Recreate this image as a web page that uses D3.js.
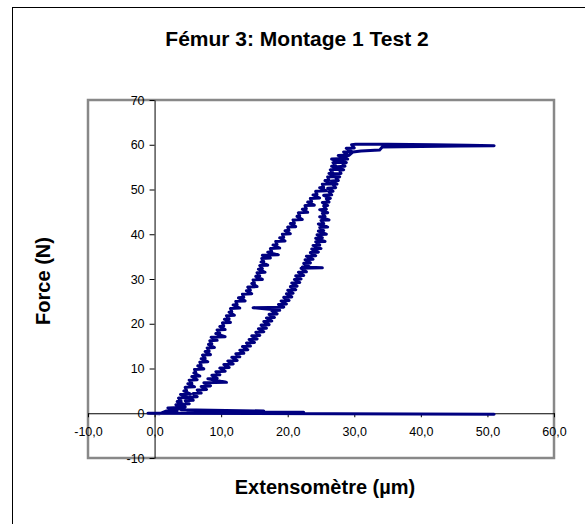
<!DOCTYPE html>
<html>
<head>
<meta charset="utf-8">
<script src="https://cdn.jsdelivr.net/npm/d3@7"></script>
<style>
  html, body { margin: 0; padding: 0; background: #fff; }
  svg { display: block; font-family: "Liberation Sans", Arial, sans-serif; }
</style>
</head>
<body>
<svg id="chart" width="585" height="524"></svg>
<script>
const title = "Fémur 3: Montage 1 Test 2";
const xTitle = "Extensomètre (µm)";
const yTitle = "Force (N)";
const xTicks = [-10, 0, 10, 20, 30, 40, 50, 60];
const yTicks = [-10, 0, 10, 20, 30, 40, 50, 60, 70];

// Start near zero
const startX = [-0.8, 0.8];
const startY = [0.0, -0.1];

// Loading branch (upper-left)
const loadX = [1.8,3.4,2.0,3.8,3.2,4.4,3.4,4.0,3.6,5.0,3.9,5.4,4.4,4.8,4.6,6.0,5.0,5.6,5.2,6.4,5.6,6.8,5.9,6.2,6.0,7.4,6.5,7.0,6.8,8.0,7.0,7.6,7.2,8.4,7.6,8.2,7.9,9.0,8.1,8.6,8.3,9.4,8.5,10.6,9.2,9.8,9.4,10.6,9.8,10.4,10.2,11.4,10.5,11.2,10.8,12.0,11.2,11.6,11.4,12.8,11.8,12.4,12.2,13.6,12.6,13.4,13.2,14.6,13.8,14.4,14.0,15.4,14.6,15.0,14.8,16.2,15.2,15.8,15.4,16.6,15.6,16.2,15.8,17.0,16.0,16.4,16.1,17.4,16.2,18.6,17.0,17.6,17.4,18.8,17.8,18.4,18.2,19.6,18.8,19.4,19.2,20.4,19.6,20.2,20.0,21.2,20.4,21.0,20.8,22.2,21.4,21.8,21.6,23.0,22.2,22.8,22.6,24.0,23.0,23.6,23.4,24.8,23.8,24.4,24.2,25.8,24.8,25.4,25.2,26.6,25.6,26.2,26.0,27.2,26.2,26.8,26.4,27.6,26.6,27.2,26.8,28.0,26.6,28.6,27.6,29.0,28.4,29.6,28.8,30.0,29.6,30.2];
const loadY = [0.5,0.6,1.2,1.3,1.9,2.0,2.6,2.7,3.4,3.5,4.2,4.3,5.0,5.1,5.8,5.9,6.6,6.7,7.4,7.5,8.2,8.3,9.0,9.1,9.8,9.9,10.6,10.7,11.4,11.5,12.2,12.3,13.0,13.1,13.8,13.9,14.6,14.7,15.4,15.5,16.2,16.3,17.0,17.1,17.8,17.9,18.6,18.7,19.4,19.5,20.2,20.3,21.0,21.1,21.8,21.9,22.6,22.7,23.4,23.5,24.2,24.3,25.0,25.1,25.8,25.9,26.6,26.7,27.4,27.5,28.2,28.3,29.0,29.1,29.8,29.9,30.6,30.7,31.4,31.5,32.2,32.3,33.0,33.1,33.8,33.9,34.6,34.7,35.3,35.4,36.0,36.1,36.8,36.9,37.6,37.7,38.4,38.5,39.2,39.3,40.0,40.1,40.8,40.9,41.6,41.7,42.4,42.5,43.2,43.3,44.0,44.1,44.8,44.9,45.6,45.7,46.4,46.5,47.2,47.3,48.0,48.1,48.8,48.9,49.6,49.7,50.4,50.5,51.2,51.3,52.0,52.1,52.8,52.9,53.6,53.7,54.4,54.5,55.2,55.3,56.0,56.1,56.8,56.9,57.6,57.7,58.4,58.5,59.2,59.3,60.0,60.1];

// Plateau near 60 N
const plateauX = [35.0,42.0,47.0,51.0,46.0,40.0,34.2,33.8,31.0,29.8];
const plateauY = [60.1,60.0,59.9,59.8,59.7,59.6,59.5,58.8,58.6,58.4];

// Unloading branch (lower-right)
const unloadX = [29.2,28.4,29.0,27.8,28.8,28.2,28.6,27.4,28.4,27.8,28.0,26.8,27.8,27.2,27.6,26.6,27.4,26.8,27.2,26.0,26.8,26.2,26.6,25.4,26.4,25.8,26.2,25.2,26.0,25.4,25.8,24.8,26.0,25.2,25.6,24.8,26.2,25.0,25.4,24.6,26.0,24.8,25.4,24.6,25.8,24.4,25.2,24.2,25.6,24.2,24.8,23.8,25.0,23.6,24.6,23.4,24.2,22.8,23.8,22.6,23.4,22.4,23.2,22.2,25.2,22.0,22.8,21.6,22.4,21.2,22.0,21.0,21.8,20.6,21.4,20.4,21.2,20.0,20.8,19.8,20.6,19.4,20.2,19.0,19.8,18.6,19.4,14.8,18.8,17.6,18.4,17.2,18.0,16.8,17.6,16.4,17.2,16.0,16.8,15.6,16.4,15.2,15.8,14.6,15.4,14.2,15.0,13.8,14.4,13.2,14.0,12.8,13.4,12.2,12.8,11.6,12.4,11.0,11.8,10.4,11.2,9.8,10.6,9.2,9.8,8.6,9.4,8.0,10.8,7.4,8.4,7.0,7.8,6.4,7.0,5.8,6.4,5.2,5.8,4.6,5.2,4.0,4.6,3.4,4.0];
const unloadY = [57.6,57.5,56.8,56.7,56.0,55.9,55.2,55.1,54.4,54.3,53.6,53.5,52.8,52.7,52.0,51.9,51.2,51.1,50.4,50.3,49.6,49.5,48.8,48.7,48.0,47.9,47.2,47.1,46.4,46.3,45.6,45.5,44.8,44.7,44.0,43.9,43.2,43.1,42.4,42.3,41.6,41.5,40.8,40.7,40.0,39.9,39.2,39.1,38.4,38.3,37.6,37.5,36.8,36.7,36.0,35.9,35.2,35.1,34.4,34.3,33.6,33.5,32.8,32.7,32.5,32.4,31.6,31.5,30.8,30.7,30.0,29.9,29.2,29.1,28.4,28.3,27.6,27.5,26.8,26.7,26.0,25.9,25.2,25.1,24.4,24.3,23.7,23.6,23.0,22.9,22.2,22.1,21.4,21.3,20.6,20.5,19.8,19.7,19.0,18.9,18.2,18.1,17.4,17.3,16.6,16.5,15.8,15.7,15.0,14.9,14.2,14.1,13.4,13.3,12.6,12.5,11.8,11.7,11.0,10.9,10.2,10.1,9.4,9.3,8.6,8.5,7.8,7.7,6.9,6.8,6.1,6.0,5.3,5.2,4.5,4.4,3.7,3.6,2.9,2.8,2.1,2.0,1.4,1.3,0.8];

// Return to zero force and baseline
const endX = [16.4,5.0,22.4,1.0,-1.0,51.0];
const endY = [0.5,0.3,0.2,0.0,0.0,-0.2];

const xs = [].concat(startX, loadX, plateauX, unloadX, endX);
const ys = [].concat(startY, loadY, plateauY, unloadY, endY);
const data = xs.map((v, i) => ({x: v, y: ys[i]}));

const svg = d3.select("#chart");
const pLeft = 88, pRight = 554, pTop = 100, pBottom = 458;
const x = d3.scaleLinear().domain([-10, 60]).range([pLeft, pRight]);
const y = d3.scaleLinear().domain([-10, 70]).range([pBottom, pTop]);

const loc = d3.formatLocale({decimal: ",", thousands: ".", grouping: [3], currency: ["", "€"], minus: "-"});
const fx = loc.format(".1f");
const fy = loc.format("d");

// outer chart frame (extends past the visible window)
svg.append("rect").attr("x", 12.5).attr("y", 7.5).attr("width", 700).attr("height", 700)
  .attr("fill", "none").attr("stroke", "#000").attr("stroke-width", 1);

// title
svg.append("text").attr("x", 297).attr("y", 46).attr("text-anchor", "middle")
  .attr("font-size", "21px").attr("font-weight", "bold").attr("fill", "#000").text(title);

// plot area border
svg.append("rect").attr("x", pLeft).attr("y", pTop).attr("width", pRight - pLeft).attr("height", pBottom - pTop)
  .attr("fill", "none").attr("stroke", "#888").attr("stroke-width", 2.5);

// axes through origin
const yAxis = svg.append("g").attr("transform", `translate(${x(0)},0)`)
  .call(d3.axisLeft(y).tickValues(yTicks).tickFormat(fy).tickSizeInner(5).tickSizeOuter(0).tickPadding(5));
const xAxis = svg.append("g").attr("transform", `translate(0,${y(0)})`)
  .call(d3.axisBottom(x).tickValues(xTicks).tickFormat(fx).tickSizeInner(4).tickSizeOuter(0).tickPadding(9.5));
[yAxis, xAxis].forEach(g => {
  g.selectAll("text").attr("font-size", "12.5px").attr("fill", "#000")
    .attr("font-family", "'Liberation Sans', Arial, sans-serif");
  g.selectAll("line").attr("stroke", "#000");
  g.select(".domain").attr("stroke", "#000");
});

// data line
svg.append("path").datum(data)
  .attr("fill", "none").attr("stroke", "#000080").attr("stroke-width", 3)
  .attr("stroke-linejoin", "round").attr("stroke-linecap", "round")
  .attr("d", d3.line().x(d => x(d.x)).y(d => y(d.y)));

// axis titles
svg.append("text").attr("x", 325).attr("y", 494).attr("text-anchor", "middle")
  .attr("font-size", "20px").attr("font-weight", "bold").attr("fill", "#000").text(xTitle);
svg.append("text").attr("transform", "translate(50,281) rotate(-90)").attr("text-anchor", "middle")
  .attr("font-size", "20px").attr("font-weight", "bold").attr("fill", "#000").text(yTitle);
</script>
</body>
</html>
